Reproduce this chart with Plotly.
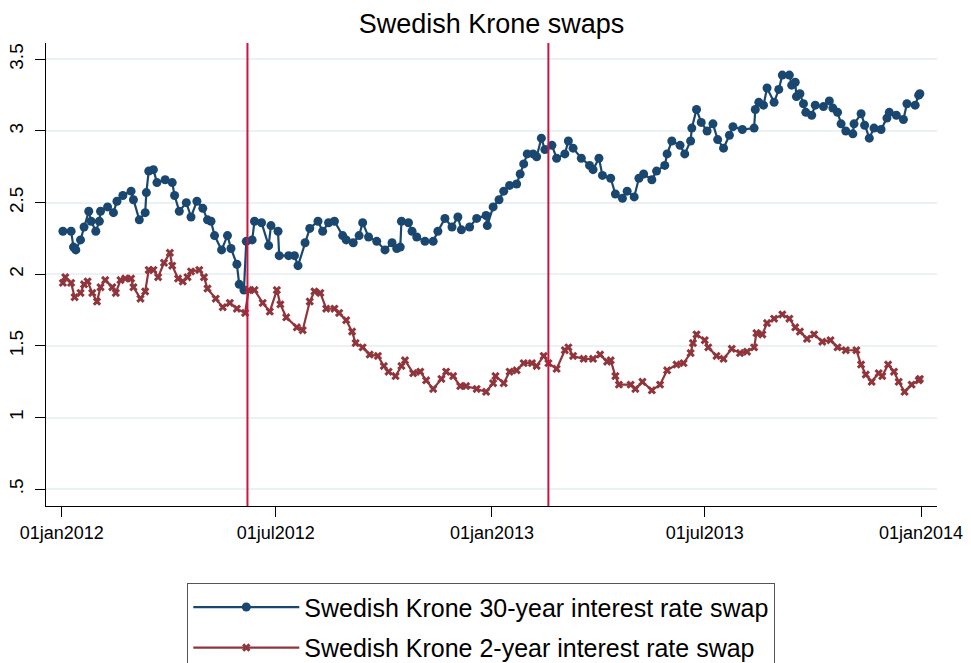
import plotly.graph_objects as go

# ---- data ----
dates_30y = [
    "2012-01-02", "2012-01-09", "2012-01-11", "2012-01-13", "2012-01-17", "2012-01-20", "2012-01-24", "2012-01-26",
    "2012-01-30", "2012-02-02", "2012-02-03", "2012-02-09", "2012-02-14", "2012-02-17", "2012-02-22", "2012-02-29",
    "2012-03-02", "2012-03-07", "2012-03-12", "2012-03-13", "2012-03-15", "2012-03-19", "2012-03-22", "2012-03-29",
    "2012-04-04", "2012-04-06", "2012-04-10", "2012-04-16", "2012-04-20", "2012-04-25", "2012-04-30", "2012-05-04",
    "2012-05-07", "2012-05-10", "2012-05-16", "2012-05-21", "2012-05-24", "2012-05-29", "2012-05-31", "2012-06-04",
    "2012-06-06", "2012-06-11", "2012-06-13", "2012-06-19", "2012-06-25", "2012-06-27", "2012-07-03", "2012-07-04",
    "2012-07-12", "2012-07-17", "2012-07-20", "2012-07-26", "2012-07-30", "2012-08-06", "2012-08-10", "2012-08-15",
    "2012-08-20", "2012-08-27", "2012-08-30", "2012-09-05", "2012-09-10", "2012-09-13", "2012-09-18", "2012-09-25",
    "2012-10-02", "2012-10-08", "2012-10-12", "2012-10-15", "2012-10-16", "2012-10-22", "2012-10-25", "2012-10-29",
    "2012-11-05", "2012-11-12", "2012-11-16", "2012-11-22", "2012-11-28", "2012-12-03", "2012-12-06", "2012-12-13",
    "2012-12-19", "2012-12-27", "2012-12-28", "2013-01-02", "2013-01-07", "2013-01-11", "2013-01-16", "2013-01-22",
    "2013-01-25", "2013-01-28", "2013-01-31", "2013-02-05", "2013-02-08", "2013-02-12", "2013-02-15", "2013-02-21",
    "2013-02-25", "2013-03-04", "2013-03-07", "2013-03-11", "2013-03-18", "2013-03-25", "2013-03-28", "2013-04-02",
    "2013-04-05", "2013-04-12", "2013-04-16", "2013-04-22", "2013-04-26", "2013-05-02", "2013-05-06", "2013-05-10",
    "2013-05-17", "2013-05-21", "2013-05-28", "2013-05-30", "2013-06-03", "2013-06-10", "2013-06-14", "2013-06-19",
    "2013-06-20", "2013-06-24", "2013-06-28", "2013-07-03", "2013-07-08", "2013-07-12", "2013-07-17", "2013-07-22",
    "2013-07-25", "2013-08-02", "2013-08-12", "2013-08-13", "2013-08-16", "2013-08-20", "2013-08-23", "2013-08-29",
    "2013-09-02", "2013-09-05", "2013-09-11", "2013-09-13", "2013-09-16", "2013-09-17", "2013-09-20", "2013-09-23",
    "2013-09-25", "2013-09-30", "2013-10-03", "2013-10-10", "2013-10-15", "2013-10-18", "2013-10-22", "2013-10-25",
    "2013-10-29", "2013-11-04", "2013-11-05", "2013-11-11", "2013-11-14", "2013-11-18", "2013-11-22", "2013-11-28",
    "2013-12-03", "2013-12-05", "2013-12-11", "2013-12-17", "2013-12-20", "2013-12-27", "2013-12-30", "2013-12-31",
]
swap_30y = [
    2.30, 2.30, 2.19, 2.17, 2.24, 2.33, 2.44, 2.37,
    2.30, 2.37, 2.44, 2.47, 2.43, 2.51, 2.55, 2.58,
    2.52, 2.38, 2.43, 2.57, 2.72, 2.73, 2.64, 2.66,
    2.64, 2.55, 2.44, 2.50, 2.40, 2.51, 2.46, 2.38,
    2.37, 2.27, 2.17, 2.27, 2.18, 2.07, 1.93, 1.89,
    2.23, 2.24, 2.37, 2.36, 2.20, 2.34, 2.30, 2.13,
    2.13, 2.13, 2.06, 2.22, 2.32, 2.37, 2.30, 2.36,
    2.37, 2.27, 2.24, 2.22, 2.27, 2.36, 2.26, 2.23,
    2.17, 2.22, 2.18, 2.19, 2.37, 2.36, 2.30, 2.26,
    2.23, 2.23, 2.30, 2.39, 2.33, 2.40, 2.31, 2.33,
    2.39, 2.41, 2.34, 2.47, 2.52, 2.58, 2.62, 2.63,
    2.70, 2.77, 2.84, 2.84, 2.82, 2.95, 2.87, 2.90,
    2.81, 2.84, 2.93, 2.88, 2.81, 2.76, 2.73, 2.81,
    2.69, 2.67, 2.56, 2.53, 2.58, 2.54, 2.67, 2.70,
    2.66, 2.72, 2.76, 2.84, 2.93, 2.90, 2.84, 2.93,
    3.02, 3.15, 3.06, 3.00, 3.05, 2.94, 2.88, 2.97,
    3.03, 3.01, 3.02, 3.15, 3.20, 3.18, 3.30, 3.20,
    3.29, 3.39, 3.39, 3.32, 3.34, 3.24, 3.26, 3.19,
    3.13, 3.11, 3.18, 3.17, 3.21, 3.16, 3.13, 3.05,
    3.00, 2.98, 3.05, 3.12, 3.04, 2.95, 3.02, 3.01,
    3.09, 3.13, 3.11, 3.08, 3.19, 3.18, 3.25, 3.26,
]

dates_2y = [
    "2012-01-02", "2012-01-04", "2012-01-09", "2012-01-12", "2012-01-17", "2012-01-20", "2012-01-23", "2012-01-27",
    "2012-01-31", "2012-02-03", "2012-02-07", "2012-02-13", "2012-02-16", "2012-02-20", "2012-02-24", "2012-02-29",
    "2012-03-02", "2012-03-08", "2012-03-12", "2012-03-15", "2012-03-19", "2012-03-23", "2012-03-28", "2012-04-02",
    "2012-04-04", "2012-04-09", "2012-04-13", "2012-04-17", "2012-04-20", "2012-04-27", "2012-05-01", "2012-05-04",
    "2012-05-11", "2012-05-17", "2012-05-23", "2012-05-29", "2012-06-05", "2012-06-08", "2012-06-13", "2012-06-20",
    "2012-06-26", "2012-07-02", "2012-07-05", "2012-07-10", "2012-07-19", "2012-07-24", "2012-07-30", "2012-08-03",
    "2012-08-08", "2012-08-13", "2012-08-20", "2012-08-24", "2012-08-30", "2012-09-04", "2012-09-07", "2012-09-13",
    "2012-09-19", "2012-09-26", "2012-10-01", "2012-10-05", "2012-10-11", "2012-10-16", "2012-10-19", "2012-10-26",
    "2012-11-01", "2012-11-06", "2012-11-12", "2012-11-19", "2012-11-23", "2012-11-29", "2012-12-05", "2012-12-10",
    "2012-12-19", "2012-12-27", "2013-01-02", "2013-01-04", "2013-01-11", "2013-01-16", "2013-01-22", "2013-01-28",
    "2013-02-04", "2013-02-08", "2013-02-14", "2013-02-18", "2013-02-25", "2013-03-04", "2013-03-07", "2013-03-11",
    "2013-03-20", "2013-03-28", "2013-04-03", "2013-04-09", "2013-04-12", "2013-04-16", "2013-04-19", "2013-04-29",
    "2013-05-03", "2013-05-09", "2013-05-17", "2013-05-24", "2013-05-30", "2013-06-07", "2013-06-13", "2013-06-19",
    "2013-06-21", "2013-06-24", "2013-07-01", "2013-07-04", "2013-07-11", "2013-07-17", "2013-07-24", "2013-07-31",
    "2013-08-06", "2013-08-12", "2013-08-14", "2013-08-19", "2013-08-23", "2013-08-29", "2013-09-05", "2013-09-11",
    "2013-09-16", "2013-09-20", "2013-09-26", "2013-10-02", "2013-10-09", "2013-10-16", "2013-10-22", "2013-10-29",
    "2013-11-07", "2013-11-11", "2013-11-15", "2013-11-20", "2013-11-26", "2013-11-29", "2013-12-04", "2013-12-09",
    "2013-12-13", "2013-12-18", "2013-12-24", "2013-12-30", "2013-12-31",
]
swap_2y = [
    1.94, 1.98, 1.94, 1.84, 1.87, 1.93, 1.95, 1.87,
    1.81, 1.91, 1.96, 1.91, 1.87, 1.96, 1.97, 1.97,
    1.91, 1.83, 1.88, 2.03, 2.03, 1.98, 2.08, 2.15,
    2.06, 1.97, 1.95, 1.98, 2.02, 2.03, 1.98, 1.90,
    1.83, 1.77, 1.80, 1.76, 1.73, 1.89, 1.89, 1.80,
    1.74, 1.89, 1.79, 1.70, 1.63, 1.61, 1.81, 1.88,
    1.87, 1.76, 1.76, 1.73, 1.68, 1.60, 1.52, 1.49,
    1.44, 1.43, 1.36, 1.32, 1.29, 1.36, 1.40, 1.31,
    1.32, 1.26, 1.20, 1.27, 1.32, 1.29, 1.22, 1.22,
    1.20, 1.18, 1.24, 1.29, 1.24, 1.32, 1.33, 1.38,
    1.38, 1.36, 1.43, 1.38, 1.34, 1.47, 1.49, 1.43,
    1.41, 1.41, 1.44, 1.39, 1.40, 1.29, 1.23, 1.23,
    1.20, 1.25, 1.19, 1.23, 1.33, 1.37, 1.38, 1.45,
    1.52, 1.58, 1.54, 1.49, 1.43, 1.41, 1.48, 1.45,
    1.46, 1.49, 1.59, 1.58, 1.66, 1.69, 1.72, 1.69,
    1.63, 1.60, 1.55, 1.58, 1.53, 1.54, 1.49, 1.47,
    1.47, 1.37, 1.30, 1.25, 1.31, 1.29, 1.37, 1.32,
    1.25, 1.18, 1.23, 1.26, 1.27,
]

event_dates = ["2012-06-07", "2013-02-18"]

x_tick_vals = ["2012-01-01", "2012-07-01", "2013-01-01", "2013-07-01", "2014-01-01"]
x_tick_text = ["01jan2012", "01jul2012", "01jan2013", "01jul2013", "01jan2014"]
y_tick_vals = [0.5, 1, 1.5, 2, 2.5, 3, 3.5]
y_tick_text = [".5", "1", "1.5", "2", "2.5", "3", "3.5"]

name_30y = "Swedish Krone 30-year interest rate swap"
name_2y = "Swedish Krone 2-year interest rate swap"
title_text = "Swedish Krone swaps"

# ---- figure ----
BLUE = "#1a476f"
RED = "#90353b"
FONT = "Liberation Sans, Arial, Helvetica, sans-serif"

fig = go.Figure()
fig.add_trace(go.Scatter(
    x=dates_30y, y=swap_30y, name=name_30y, mode="lines+markers",
    line=dict(color=BLUE, width=2.2),
    marker=dict(color=BLUE, size=9, symbol="circle"),
    legendgroup="a",
))
fig.add_trace(go.Scatter(
    x=dates_2y, y=swap_2y, name=name_2y, mode="lines+markers",
    line=dict(color=RED, width=2.2),
    marker=dict(color=RED, size=7.5, symbol="x"),
    legendgroup="b",
))

for d in event_dates:
    fig.add_shape(type="line", xref="x", yref="paper", x0=d, x1=d, y0=0, y1=1,
                  line=dict(color="#cc1440", width=2))

fig.update_layout(
    width=971, height=663,
    paper_bgcolor="white", plot_bgcolor="white",
    margin=dict(l=46, r=34, t=43, b=157, autoexpand=False),
    font=dict(family=FONT, color="black", size=18),
    title=dict(text=title_text, x=0.5, xref="paper", xanchor="center",
               y=1 - 24 / 663, yref="container", yanchor="middle",
               font=dict(size=27, family=FONT, color="black")),
    showlegend=True,
    legend=dict(
        x=(187 - 46) / 891, y=-(583 - 506) / 463, xanchor="left", yanchor="top",
        orientation="v", bgcolor="white", bordercolor="#555555", borderwidth=1.3,
        font=dict(size=25, family=FONT, color="black"),
        itemwidth=106, tracegroupgap=5,
    ),
    xaxis=dict(
        type="date", range=["2011-12-18 15:00", "2014-01-14 14:00"],
        tickmode="array", tickvals=x_tick_vals, ticktext=x_tick_text,
        ticks="outside", ticklen=10, tickwidth=1.2, tickcolor="black",
        showline=True, linecolor="black", linewidth=1.3,
        showgrid=False, zeroline=False, automargin=False,
        tickfont=dict(size=18, family=FONT, color="black"),
    ),
    yaxis=dict(
        range=[0.383, 3.614],
        tickmode="array", tickvals=y_tick_vals, ticktext=y_tick_text,
        ticks="outside", ticklen=10, tickwidth=1.2, tickcolor="black",
        tickangle=-90, ticklabelstandoff=4,
        showline=True, linecolor="black", linewidth=1.3,
        showgrid=True, gridcolor="#eaf2f3", gridwidth=1.5, zeroline=False,
        automargin=False,
        tickfont=dict(size=19, family=FONT, color="black"),
    ),
)

fig.write_html(
    "out.html",
    config={"displayModeBar": False},
    post_script="document.body.style.margin='0';document.body.style.padding='0';"
                "document.documentElement.style.overflow='hidden';",
)
